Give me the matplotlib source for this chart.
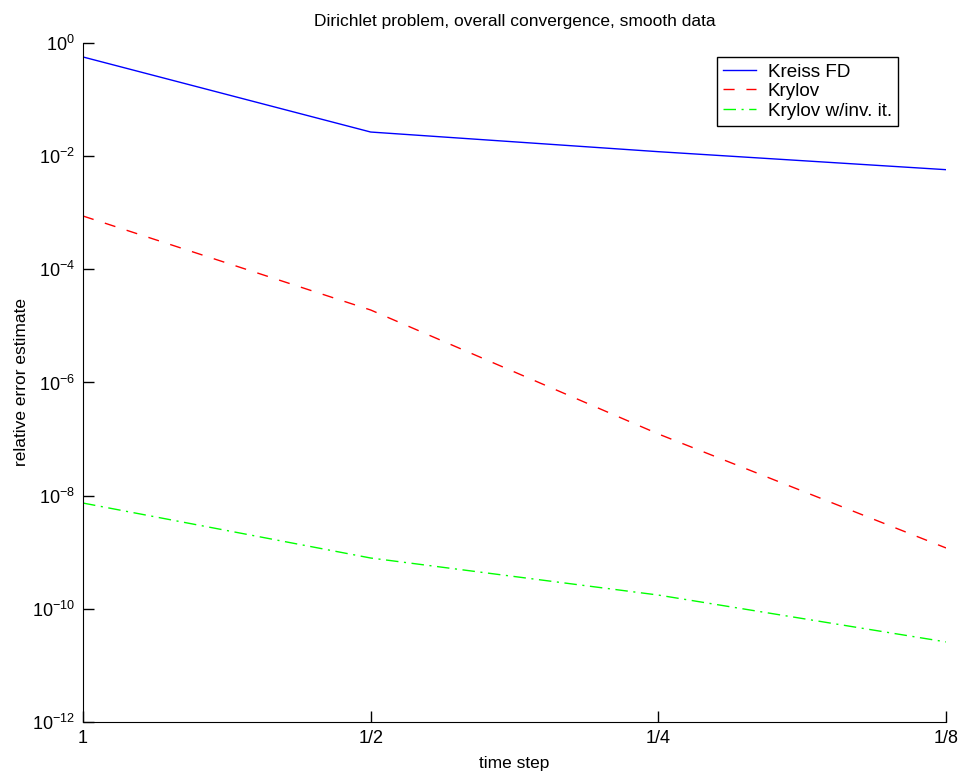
import numpy as np
import matplotlib
matplotlib.use("Agg")
import matplotlib.pyplot as plt
from matplotlib.ticker import FixedLocator, FixedFormatter, NullLocator

plt.rcParams['font.family'] = ['Liberation Sans', 'DejaVu Sans']
plt.rcParams['mathtext.fontset'] = 'custom'
plt.rcParams['mathtext.rm'] = 'Liberation Sans'
plt.rcParams['mathtext.default'] = 'regular'

# data
steps = [1, 1/2, 1/4, 1/8]
step_labels = ['1', '1/2', '1/4', '1/8']
kreiss_fd = [0.566, 0.0267, 0.0120, 0.00577]
krylov = [8.75e-4, 1.91e-5, 1.23e-7, 1.19e-9]
krylov_inv = [7.4e-9, 7.9e-10, 1.75e-10, 2.6e-11]
ydecades = [0, -2, -4, -6, -8, -10, -12]

fig = plt.figure(figsize=(9.61, 7.72), dpi=100)
ax = fig.add_axes([0.0864, 0.0648, 0.898, 0.8795])

ax.plot(steps, kreiss_fd, color=(0, 0, 1), lw=1.0, label='Kreiss FD')
ax.plot(steps, krylov, color=(1, 0, 0), lw=1.0, dashes=(8, 8.5), label='Krylov')
ax.plot(steps, krylov_inv, color=(0, 1, 0), lw=1.0, dashes=(9, 4, 1.5, 4), label='Krylov w/inv. it.')

ax.set_xscale('log', base=2)
ax.set_yscale('log')
ax.set_xlim(1, 1/8)
ax.set_ylim(1e-12, 1)

ax.xaxis.set_major_locator(FixedLocator(steps))
ax.xaxis.set_major_formatter(FixedFormatter(step_labels))
ax.xaxis.set_minor_locator(NullLocator())
ax.yaxis.set_major_locator(FixedLocator([10.0**d for d in ydecades]))
ax.yaxis.set_major_formatter(FixedFormatter(['$10^{%d}$' % d for d in ydecades]))
ax.yaxis.set_minor_locator(NullLocator())

for s in ['top', 'right']:
    ax.spines[s].set_visible(False)
ax.tick_params(direction='in', length=8, width=1, labelsize=13, pad=6)

ax.set_title('Dirichlet problem, overall convergence, smooth data', fontsize=12.5, pad=12)
ax.set_xlabel('time step', fontsize=12.5, labelpad=6)
ax.set_ylabel('relative error estimate', fontsize=12.5, labelpad=2)

leg = ax.legend(loc='upper right', bbox_to_anchor=(0.944, 0.979), borderaxespad=0,
                fontsize=13.6, fancybox=False, edgecolor='black', framealpha=1,
                handlelength=1.75, handletextpad=0.6, borderpad=0.32, labelspacing=0.12)
leg.get_frame().set_linewidth(1.0)

fig.savefig('out.png', dpi=100)
